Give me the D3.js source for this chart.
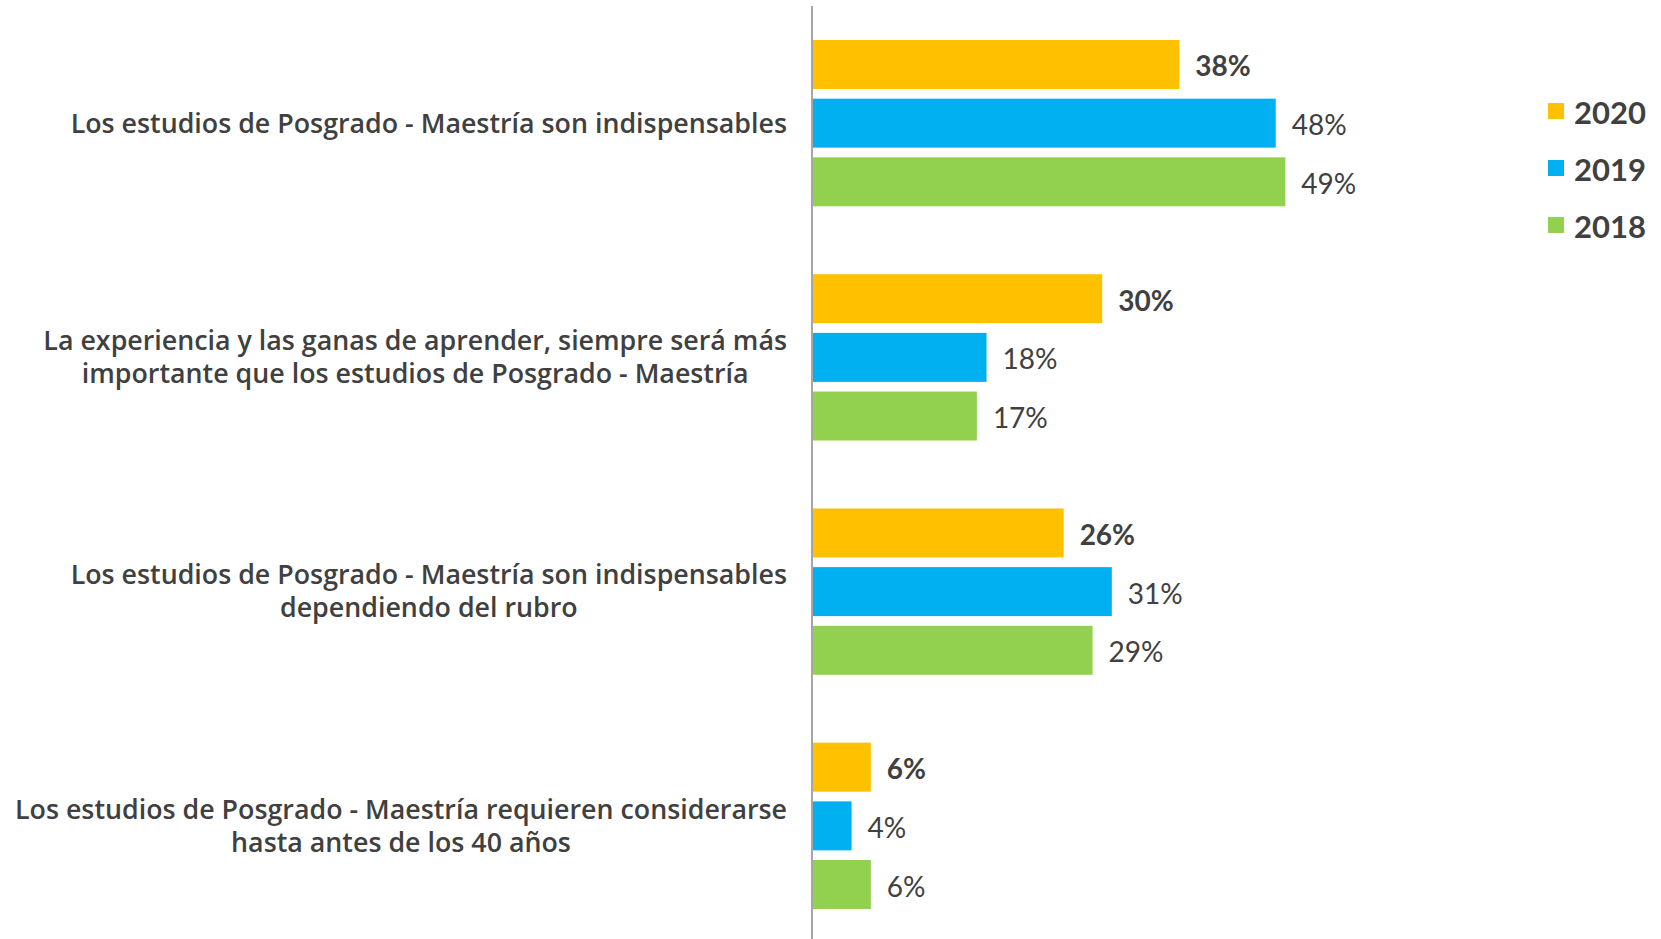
<!DOCTYPE html>
<html>
<head>
<meta charset="utf-8">
<script src="https://cdn.jsdelivr.net/npm/d3@7"></script>
<style>
  html, body { margin: 0; padding: 0; background: #fff; }
  svg { display: block; }
</style>
</head>
<body>
<div id="chart"></div>
<script>
// categories (line breaks as in the original)
const categories = [
    "Los estudios de Posgrado - Maestría son indispensables",
    "La experiencia y las ganas de aprender, siempre será más\nimportante que los estudios de Posgrado - Maestría",
    "Los estudios de Posgrado - Maestría son indispensables\ndependiendo del rubro",
    "Los estudios de Posgrado - Maestría requieren considerarse\nhasta antes de los 40 años"
];
const years = ["2020", "2019", "2018"];
const values2020 = [38, 30, 26, 6];
const values2019 = [48, 18, 31, 4];
const values2018 = [49, 17, 29, 6];
const colors = ["#FFC000", "#00B0F0", "#92D050"];

const series = [values2020, values2019, values2018];

const width = 1661, height = 939;
const textColor = "#404040";

const svg = d3.select("#chart").append("svg")
    .attr("width", width)
    .attr("height", height);

const x = d3.scaleLinear().domain([0, 50]).range([813, 1295]);

const yGroup = d3.scaleBand()
    .domain(categories)
    .range([40, 909])
    .paddingInner(0.29)
    .paddingOuter(0);

const yYear = d3.scaleBand()
    .domain(years)
    .range([0, yGroup.bandwidth()])
    .paddingInner(0.165);

// bars
const rows = [];
categories.forEach(function(cat, i) {
    years.forEach(function(yr, j) {
        rows.push({ cat: cat, year: yr, value: series[j][i], color: colors[j], bold: j === 0 });
    });
});

svg.append("g").selectAll("rect")
    .data(rows)
    .join("rect")
    .attr("x", x(0))
    .attr("y", d => yGroup(d.cat) + yYear(d.year))
    .attr("width", d => x(d.value) - x(0))
    .attr("height", yYear.bandwidth())
    .attr("fill", d => d.color);

// value labels
svg.append("g").selectAll("text")
    .data(rows)
    .join("text")
    .attr("x", d => x(d.value) + 16)
    .attr("y", d => yGroup(d.cat) + yYear(d.year) + yYear.bandwidth() / 2 + 1)
    .attr("dominant-baseline", "central")
    .attr("font-family", "Lato, sans-serif")
    .attr("font-size", 28)
    .attr("font-weight", d => d.bold ? "bold" : "normal")
    .attr("fill", textColor)
    .text(d => d.value + "%");

// vertical axis line
svg.append("line")
    .attr("x1", x(0) - 1).attr("x2", x(0) - 1)
    .attr("y1", 6).attr("y2", height)
    .attr("stroke", "#a6a6a6")
    .attr("stroke-width", 2);

// category labels: each block centred on itself, right edge against the axis
const labelRight = 787;
const lineHeight = 33;
categories.forEach(function(cat) {
    const lines = cat.split("\n");
    const cy = yGroup(cat) + yGroup.bandwidth() / 2;
    const t = svg.append("text")
        .attr("font-family", "'Open Sans', sans-serif")
        .attr("font-size", 26.8)
        .attr("font-weight", 600)
        .attr("fill", textColor)
        .attr("text-anchor", "middle");
    lines.forEach(function(line, k) {
        t.append("tspan")
            .attr("y", cy + (k - (lines.length - 1) / 2) * lineHeight)
            .attr("dy", "0.35em")
            .text(line);
    });
    let maxW = 0;
    t.selectAll("tspan").each(function() {
        maxW = Math.max(maxW, this.getComputedTextLength());
    });
    t.selectAll("tspan").attr("x", labelRight - maxW / 2);
});

// legend
const legend = svg.append("g").selectAll("g")
    .data(years)
    .join("g")
    .attr("transform", (d, i) => `translate(1548, ${111 + i * 57})`);

legend.append("rect")
    .attr("x", 0).attr("y", -8)
    .attr("width", 16).attr("height", 16)
    .attr("fill", (d, i) => colors[i]);

legend.append("text")
    .attr("x", 26)
    .attr("y", 1)
    .attr("dominant-baseline", "central")
    .attr("font-family", "Lato, sans-serif")
    .attr("font-size", 31)
    .attr("font-weight", "bold")
    .attr("fill", textColor)
    .text(d => d);
</script>
</body>
</html>
